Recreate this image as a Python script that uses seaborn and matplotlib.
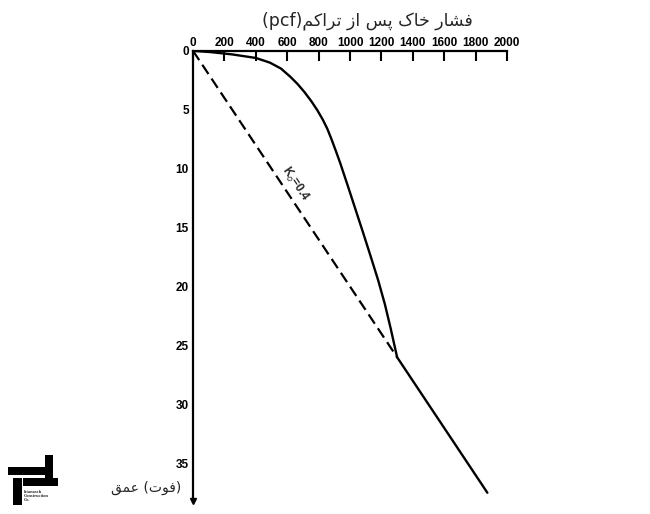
import matplotlib
matplotlib.use("Agg")
import matplotlib.pyplot as plt
import seaborn as sns
from matplotlib.patches import Rectangle

# values (pressure in pcf, depth in ft)
curve_depth = [0, 0.1, 0.3, 0.6, 1.0, 1.5, 2.2, 2.8, 3.5, 4.3, 5.0, 5.8, 6.6, 7.5,
               8.5, 9.5, 10.5, 11.5, 13.5, 15.5, 17.5, 19.5, 21.5, 23.5, 26]
curve_pressure = [0, 110, 250, 400, 490, 560, 620, 665, 710, 755, 790, 825, 855, 882,
                  910, 937, 962, 987, 1036, 1085, 1133, 1180, 1222, 1258, 1300]
line_depth = [26, 37.5]
line_pressure = [1300, 1875]
k0_depth = [0, 26]
k0_pressure = [0, 1300]

x_ticks = list(range(0, 2001, 200))
y_ticks = list(range(0, 36, 5))

title_words = ["فشار", "خاک", "پس", "از", "تراکم"]
title_unit = "(pcf)"
depth_word = "عمق"
depth_unit = "فوت"
k0_label = "K$_o$=0.4"

# minimal arabic shaping: (isolated, final, initial, medial)
FORMS = {
    "ا": ("\uFE8D", "\uFE8E", "\uFE8D", "\uFE8E"),
    "ر": ("\uFEAD", "\uFEAE", "\uFEAD", "\uFEAE"),
    "ز": ("\uFEAF", "\uFEB0", "\uFEAF", "\uFEB0"),
    "و": ("\uFEED", "\uFEEE", "\uFEED", "\uFEEE"),
    "ف": ("\uFED1", "\uFED2", "\uFED3", "\uFED4"),
    "ش": ("\uFEB5", "\uFEB6", "\uFEB7", "\uFEB8"),
    "خ": ("\uFEA5", "\uFEA6", "\uFEA7", "\uFEA8"),
    "ک": ("\uFB8E", "\uFB8F", "\uFB90", "\uFB91"),
    "پ": ("\uFB56", "\uFB57", "\uFB58", "\uFB59"),
    "س": ("\uFEB1", "\uFEB2", "\uFEB3", "\uFEB4"),
    "ت": ("\uFE95", "\uFE96", "\uFE97", "\uFE98"),
    "م": ("\uFEE1", "\uFEE2", "\uFEE3", "\uFEE4"),
    "ع": ("\uFEC9", "\uFECA", "\uFECB", "\uFECC"),
    "ق": ("\uFED5", "\uFED6", "\uFED7", "\uFED8"),
}
RIGHT_ONLY = set("ارزودذژ")


def shape(word):
    out = []
    for i, ch in enumerate(word):
        prev_joins = i > 0 and word[i - 1] not in RIGHT_ONLY
        next_joins = ch not in RIGHT_ONLY and i + 1 < len(word)
        iso, fin, ini, med = FORMS[ch]
        if prev_joins and next_joins:
            out.append(med)
        elif prev_joins:
            out.append(fin)
        elif next_joins:
            out.append(ini)
        else:
            out.append(iso)
    return "".join(reversed(out))


title_text = title_unit + " ".join(shape(w) for w in reversed(title_words))
depth_text = shape(depth_word) + " (" + shape(depth_unit) + ")"

sns.set_style("white")
plt.rcParams["font.family"] = ["Liberation Sans", "DejaVu Sans"]

fig = plt.figure(figsize=(6.5, 5.14), dpi=100)
ax = fig.add_axes([0.297, 0.023, 0.483, 0.878])

sns.lineplot(x=curve_pressure, y=curve_depth, sort=False, color="black", lw=1.7, ax=ax)
sns.lineplot(x=line_pressure, y=line_depth, sort=False, color="black", lw=1.7, ax=ax)
sns.lineplot(x=k0_pressure, y=k0_depth, sort=False, color="black", lw=1.6, linestyle="--", ax=ax)
ax.lines[-1].set_dashes([5, 2.5])

ax.set_xlim(0, 2000)
ax.set_ylim(38.3, 0)
ax.xaxis.tick_top()
ax.set_xticks(x_ticks)
ax.set_xticklabels([str(v) for v in x_ticks])
ax.set_yticks(y_ticks)
ax.set_yticklabels([str(v) for v in y_ticks])
ax.tick_params(axis="x", direction="in", length=7, width=1.5, pad=1,
               labelsize=8.5, colors="black")
ax.tick_params(axis="y", direction="in", length=7, width=1.5, pad=3,
               labelsize=8.5, colors="black")
for lab in ax.get_xticklabels() + ax.get_yticklabels():
    lab.set_fontweight("bold")

for side in ["right", "bottom"]:
    ax.spines[side].set_visible(False)
for side in ["left", "top"]:
    ax.spines[side].set_linewidth(1.6)
    ax.spines[side].set_color("black")

# arrow head at the end of the depth axis
ax.plot([0], [38.2], marker="v", color="black", markersize=4, clip_on=False)

ax.text(650, 11.3, k0_label, rotation=-56, rotation_mode="anchor",
        ha="center", va="center", fontsize=8.5, fontweight="bold")

fig.text(0.565, 0.96, title_text, ha="center", va="center", fontsize=12.5,
         family=["DejaVu Sans"])
fig.text(0.225, 0.05, depth_text, ha="center", va="center", fontsize=10,
         family=["DejaVu Sans"])

# small company logo, bottom left
W, H = 650.0, 514.0
for x0, y0, w, h in [(45, 455, 8, 25), (8, 467, 37, 8), (23, 478, 35, 8), (13, 478, 9, 27)]:
    fig.add_artist(Rectangle((x0 / W, 1 - (y0 + h) / H), w / W, h / H,
                             transform=fig.transFigure, color="black", lw=0))
fig.text(24 / W, 1 - 496 / H, "Istanaseh\nConstruction\nCo.", fontsize=3.2,
         fontweight="bold", family=["Liberation Serif"], va="center", ha="left",
         linespacing=0.9)

fig.savefig("out.png", dpi=100)
